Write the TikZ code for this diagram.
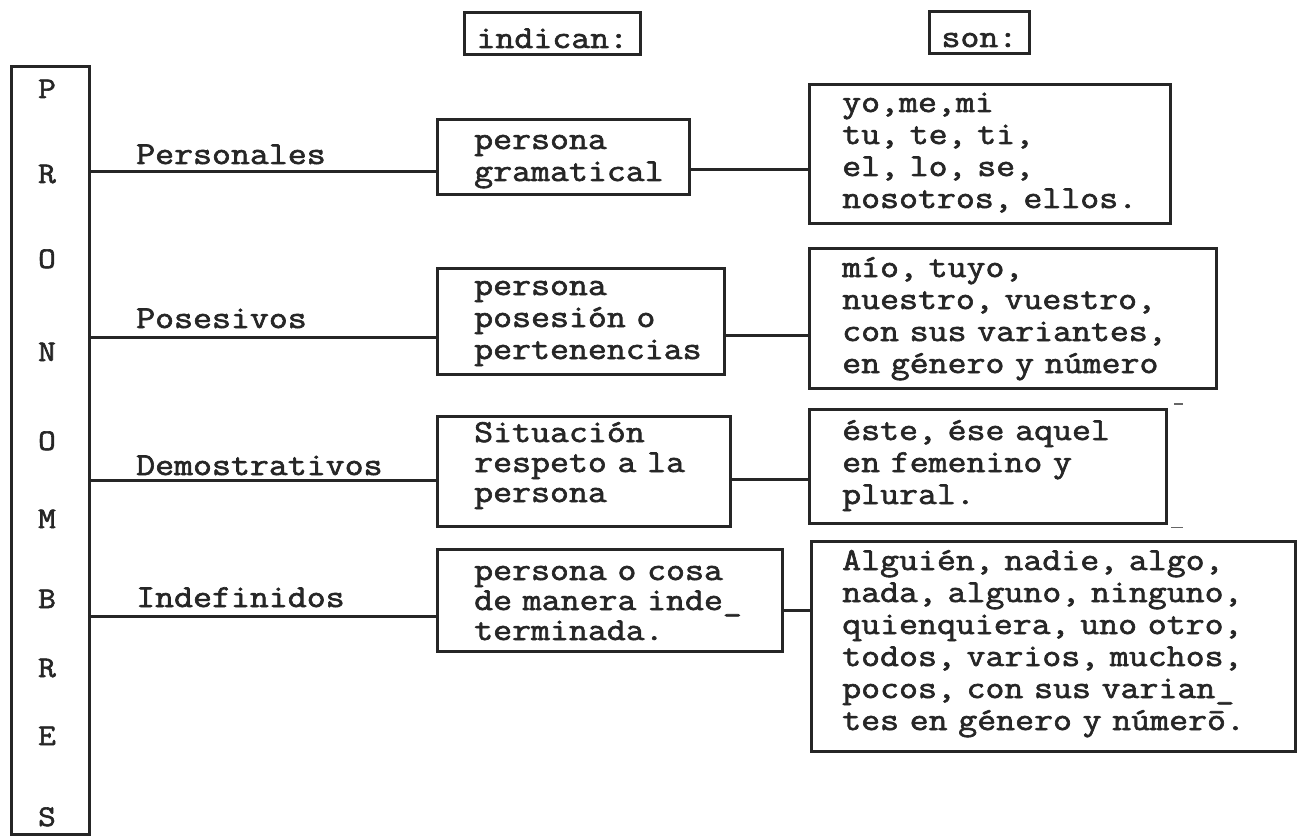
\documentclass[tikz,border=0pt]{standalone}
\usepackage{fontspec}
\newfontfamily\tw[FakeStretch=1.15,FakeBold=2]{Latin Modern Mono}
\begin{document}
\begin{tikzpicture}[x=1pt,y=-1pt,
  frame/.style={draw=black!85, line width=3.2pt, inner sep=0pt, anchor=north west},
  tt/.style={font=\tw\fontsize{32}{32}\selectfont, text=black!85, inner sep=0pt, anchor=base west, text width=480pt, align=left},
  ttn/.style={tt, font=\tw\fontsize{32}{30}\selectfont},
  title/.style={font=\tw\fontsize{32}{32}\selectfont, text=black!85, draw=black!85, line width=3pt,
    inner xsep=12pt, inner ysep=6pt, text height=29pt, text depth=1pt, anchor=base west},
  link/.style={draw=black!85, line width=3pt},
  letter/.style={font=\tw\fontsize{30}{30}\selectfont, text=black!85, inner sep=0pt, anchor=base},
  stray/.style={draw=black!60, line width=1.2pt}
]
\useasboundingbox (0,0) rectangle (1303,837);

% column titles
\node[title] (ind) at (463,48) {indican:};
\node[title] (son) at (928,47) {son:};

% left vertical box
\node[frame, minimum width=78pt, minimum height=768pt] (L) at (10,65) {};
\foreach \c/\yy [count=\i] in {P/98,R/183,O/268,N/361,O/450,M/528,B/608,R/677,E/745,S/826}
  \node[letter] (l\i) at (47,\yy) {\c};

% category labels
\node[tt] (lper) at (136,164) {Personales};
\node[tt] (lpos) at (136,328) {Posesivos};
\node[tt] (ldem) at (136,475) {Demostrativos};
\node[tt] (lind) at (136,607) {Indefinidos};

% middle boxes
\node[frame, minimum width=252pt, minimum height=75pt]  (m1) at (436,118) {};
\node[frame, minimum width=287pt, minimum height=106pt] (m2) at (436,267) {};
\node[frame, minimum width=293pt, minimum height=110pt] (m3) at (436,415) {};
\node[frame, minimum width=345pt, minimum height=102pt] (m4) at (436,548) {};
\node[tt]  (m1t) at (474,149) {persona\\gramatical};
\node[tt]  (m2t) at (474,295) {persona\\posesión o\\pertenencias};
\node[ttn] (m3t) at (474,442) {Situación\\respeto a la\\persona};
\node[ttn] (m4t) at (474,580) {persona o cosa\\de manera inde\_\\terminada.};

% right boxes
\node[frame, minimum width=361pt, minimum height=139pt] (r1) at (808,83) {};
\node[frame, minimum width=407pt, minimum height=140pt] (r2) at (808,247) {};
\node[frame, minimum width=357pt, minimum height=114pt] (r3) at (808,408) {};
\node[frame, minimum width=484pt, minimum height=210pt] (r4) at (810,540) {};
\node[tt] (r1t) at (842,112) {yo,me,mi\\tu, te, ti,\\el, lo, se,\\nosotros, ellos.};
\node[tt] (r2t) at (842,277) {mío, tuyo,\\nuestro, vuestro,\\con sus variantes,\\en género y número};
\node[tt] (r3t) at (842,440) {éste, ése aquel\\en femenino y\\plural.};
\node[tt] (r4t) at (842,570) {Alguién, nadie, algo,\\nada, alguno, ninguno,\\quienquiera, uno otro,\\todos, varios, muchos,\\pocos, con sus varian\_\\tes en género y númerō.};

% connector heights
\coordinate (y1) at (0,172);
\coordinate (y2) at (0,337);
\coordinate (y3) at (0,480);
\coordinate (y4) at (0,616);
\coordinate (z1) at (0,170);
\coordinate (z2) at (0,335);
\coordinate (z3) at (0,479);
\coordinate (z4) at (0,610);

\draw[link] (L.east |- y1) -- (m1.west |- y1);
\draw[link] (L.east |- y2) -- (m2.west |- y2);
\draw[link] (L.east |- y3) -- (m3.west |- y3);
\draw[link] (L.east |- y4) -- (m4.west |- y4);
\draw[link] (m1.east |- z1) -- (r1.west |- z1);
\draw[link] (m2.east |- z2) -- (r2.west |- z2);
\draw[link] (m3.east |- z3) -- (r3.west |- z3);
\draw[link] (m4.east |- z4) -- (r4.west |- z4);

% small stray marks beside the third right box
\draw[stray] ([xshift=6pt,yshift=4pt]r3.north east) -- ++(9,0);
\draw[stray] ([xshift=3pt,yshift=-2pt]r3.south east) -- ++(12,0);
\end{tikzpicture}
\end{document}
